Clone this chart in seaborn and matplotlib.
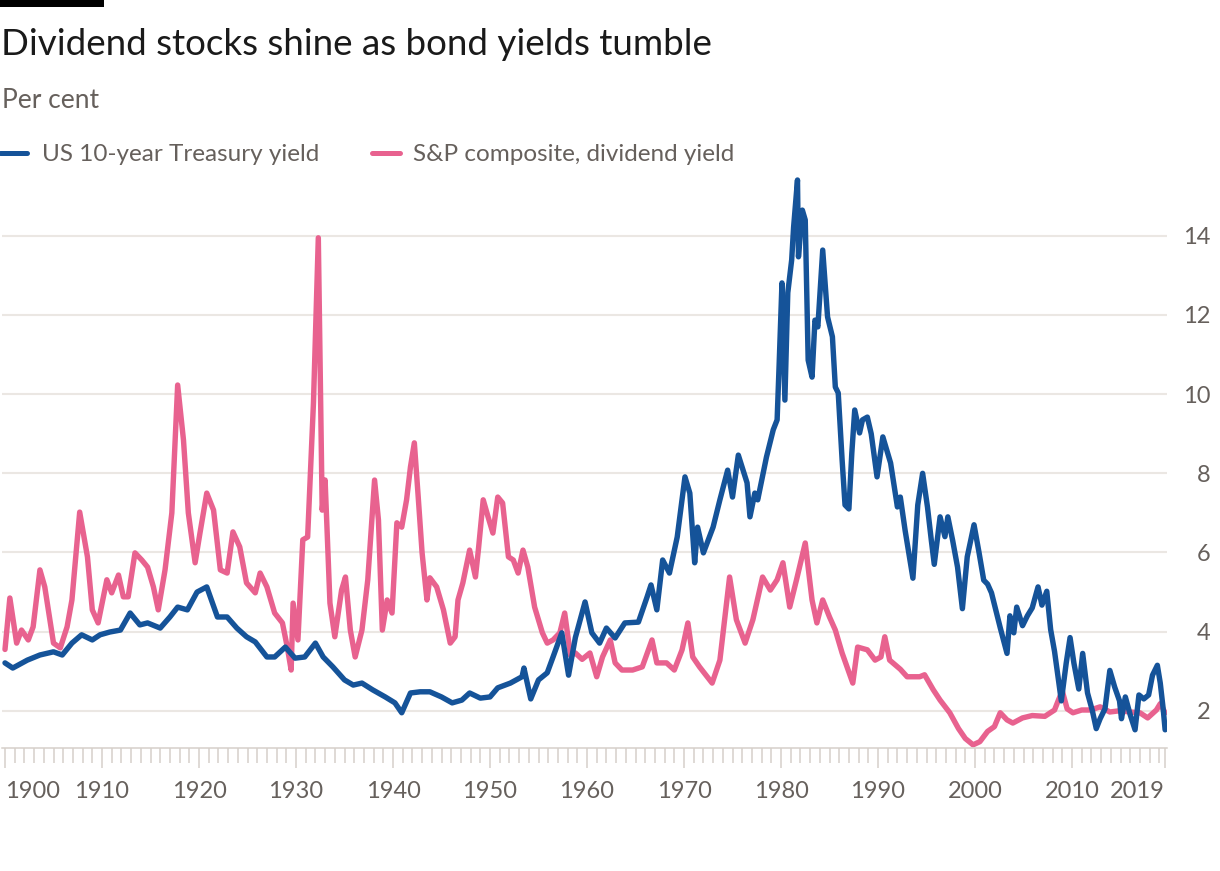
import matplotlib
matplotlib.use("Agg")
import matplotlib.pyplot as plt
from matplotlib.lines import Line2D
from matplotlib.patches import Rectangle
from matplotlib.ticker import FixedLocator, NullFormatter
import seaborn as sns
import pandas as pd

# ---------------- data ----------------
treasury_years = [
    1900.0, 1900.8, 1902.3, 1903.6, 1905.0, 1905.9, 1906.9, 1907.9, 1909.0, 1909.8,
    1910.8, 1911.9, 1912.9, 1913.9, 1914.7, 1916.0, 1917.0, 1917.8, 1918.8, 1919.8,
    1920.8, 1921.9, 1922.9, 1923.9, 1924.9, 1925.8, 1927.0, 1927.8, 1928.9, 1929.9,
    1930.9, 1932.0, 1932.8, 1933.8, 1935.0, 1935.9, 1936.8, 1937.9, 1939.2, 1940.2,
    1940.9, 1941.8, 1942.8, 1943.8, 1945.0, 1946.1, 1947.1, 1947.9, 1949.0, 1950.0,
    1950.8, 1952.1, 1953.3, 1953.5, 1954.2, 1955.0, 1955.9, 1956.5, 1957.4, 1958.1,
    1958.8, 1959.8, 1960.5, 1961.3, 1962.0, 1962.9, 1963.9, 1965.3, 1966.2, 1966.6,
    1967.2, 1967.8, 1968.5, 1969.3, 1970.1, 1970.6, 1971.1, 1971.4, 1972.0, 1973.0,
    1973.7, 1974.5, 1975.0, 1975.6, 1976.5, 1976.8, 1977.3, 1977.6, 1978.5, 1979.2,
    1979.6, 1979.8, 1980.1, 1980.4, 1980.7, 1981.1, 1981.3, 1981.7, 1981.8, 1982.2,
    1982.5, 1982.8, 1983.2, 1983.5, 1983.8, 1984.3, 1984.8, 1985.3, 1985.6, 1985.9,
    1986.3, 1986.6, 1987.0, 1987.3, 1987.6, 1988.1, 1988.4, 1988.9, 1989.3, 1989.9,
    1990.5, 1990.9, 1991.3, 1992.0, 1992.3, 1992.8, 1993.6, 1994.1, 1994.6, 1995.1,
    1995.5, 1995.8, 1996.4, 1996.9, 1997.2, 1997.7, 1998.2, 1998.7, 1999.2, 1999.9,
    2000.4, 2000.9, 2001.3, 2001.7, 2002.6, 2003.3, 2003.6, 2004.0, 2004.3, 2004.9,
    2005.4, 2005.9, 2006.5, 2006.9, 2007.4, 2007.8, 2008.2, 2008.9, 2009.4, 2009.8,
    2010.2, 2010.7, 2011.1, 2011.6, 2012.1, 2012.5, 2012.9, 2013.4, 2013.9, 2014.4,
    2014.9, 2015.1, 2015.5, 2016.0, 2016.5, 2016.9, 2017.4, 2017.9, 2018.3, 2018.8,
    2019.1, 2019.4, 2019.6,
]
treasury_values = [
    3.21, 3.08, 3.28, 3.41, 3.49, 3.41, 3.71, 3.92, 3.79, 3.92,
    3.99, 4.04, 4.47, 4.17, 4.22, 4.09, 4.37, 4.62, 4.55, 5.00,
    5.13, 4.37, 4.37, 4.09, 3.87, 3.74, 3.36, 3.36, 3.61, 3.33,
    3.36, 3.71, 3.36, 3.11, 2.78, 2.65, 2.70, 2.53, 2.35, 2.20,
    1.95, 2.45, 2.48, 2.48, 2.35, 2.20, 2.27, 2.45, 2.32, 2.35,
    2.58, 2.70, 2.86, 3.08, 2.30, 2.78, 2.96, 3.36, 3.97, 2.90,
    3.85, 4.75, 3.97, 3.71, 4.09, 3.84, 4.22, 4.24, 4.88, 5.18,
    4.55, 5.81, 5.48, 6.39, 7.91, 7.50, 5.74, 6.64, 5.99, 6.64,
    7.33, 8.08, 7.40, 8.46, 7.76, 6.90, 7.50, 7.33, 8.41, 9.10,
    9.35, 10.69, 12.81, 9.85, 12.56, 13.39, 14.22, 15.41, 13.47, 14.65,
    14.40, 10.86, 10.43, 11.87, 11.70, 13.64, 11.95, 11.45, 10.18, 10.03,
    8.34, 7.20, 7.10, 8.51, 9.60, 9.02, 9.35, 9.42, 9.00, 7.91,
    8.92, 8.59, 8.26, 7.15, 7.40, 6.55, 5.35, 7.20, 8.00, 7.15,
    6.30, 5.70, 6.90, 6.40, 6.90, 6.30, 5.63, 4.58, 5.89, 6.70,
    6.02, 5.30, 5.20, 4.98, 4.10, 3.45, 4.40, 3.97, 4.62, 4.15,
    4.40, 4.60, 5.13, 4.67, 5.02, 4.05, 3.50, 2.25, 3.20, 3.85,
    3.20, 2.55, 3.45, 2.45, 2.00, 1.55, 1.80, 2.05, 3.02, 2.60,
    2.25, 1.80, 2.35, 1.90, 1.52, 2.40, 2.30, 2.40, 2.90, 3.15,
    2.70, 2.05, 1.52,
]

dividend_years = [
    1900.0, 1900.5, 1901.2, 1901.7, 1902.4, 1902.9, 1903.6, 1904.1, 1905.0, 1905.7,
    1906.4, 1906.9, 1907.7, 1908.5, 1909.0, 1909.6, 1910.5, 1911.0, 1911.7, 1912.2,
    1912.7, 1913.4, 1914.1, 1914.7, 1915.3, 1915.8, 1916.5, 1917.2, 1917.8, 1918.4,
    1918.9, 1919.6, 1920.1, 1920.8, 1921.5, 1922.2, 1922.9, 1923.5, 1924.2, 1924.9,
    1925.8, 1926.3, 1927.0, 1927.8, 1928.6, 1929.1, 1929.5, 1929.7, 1930.2, 1930.7,
    1931.2, 1931.8, 1932.3, 1932.7, 1933.0, 1933.5, 1934.0, 1934.7, 1935.1, 1935.6,
    1936.1, 1936.8, 1937.4, 1938.1, 1938.5, 1938.9, 1939.4, 1939.9, 1940.4, 1940.9,
    1941.4, 1941.8, 1942.2, 1942.6, 1943.0, 1943.5, 1943.8, 1944.5, 1945.2, 1945.9,
    1946.4, 1946.7, 1947.2, 1947.9, 1948.5, 1948.8, 1949.3, 1949.8, 1950.3, 1950.8,
    1951.3, 1951.9, 1952.4, 1952.9, 1953.4, 1953.9, 1954.6, 1955.4, 1955.9, 1956.5,
    1957.2, 1957.7, 1958.3, 1958.8, 1959.5, 1960.3, 1961.0, 1961.6, 1962.4, 1962.9,
    1963.6, 1964.7, 1965.7, 1966.7, 1967.2, 1968.2, 1969.0, 1969.8, 1970.4, 1970.9,
    1971.6, 1972.9, 1973.7, 1974.7, 1975.4, 1976.3, 1977.1, 1978.1, 1978.9, 1979.6,
    1980.2, 1980.9, 1981.6, 1982.5, 1983.2, 1983.7, 1984.3, 1985.0, 1985.6, 1986.3,
    1987.4, 1987.9, 1988.9, 1989.7, 1990.3, 1990.7, 1991.2, 1992.3, 1993.0, 1994.3,
    1994.8, 1995.7, 1996.4, 1997.4, 1998.3, 1999.0, 1999.8, 2000.5, 2001.3, 2002.0,
    2002.6, 2003.3, 2003.9, 2004.9, 2005.9, 2007.2, 2008.2, 2008.6, 2009.0, 2009.5,
    2010.1, 2011.0, 2011.9, 2012.9, 2013.9, 2014.9, 2016.0, 2017.0, 2017.8, 2018.7,
    2019.1, 2019.6,
]
dividend_values = [
    3.55, 4.85, 3.71, 4.04, 3.79, 4.12, 5.56, 5.13, 3.71, 3.59,
    4.12, 4.80, 7.02, 5.89, 4.55, 4.22, 5.31, 4.98, 5.43, 4.88,
    4.88, 5.99, 5.81, 5.63, 5.13, 4.55, 5.56, 7.00, 10.23, 8.84,
    7.00, 5.74, 6.49, 7.50, 7.07, 5.56, 5.48, 6.52, 6.14, 5.23,
    4.98, 5.48, 5.13, 4.47, 4.22, 3.61, 3.03, 4.72, 3.79, 6.32,
    6.39, 9.78, 13.95, 7.07, 7.83, 4.72, 3.87, 5.05, 5.38, 4.04,
    3.36, 4.04, 5.31, 7.83, 6.82, 4.04, 4.80, 4.47, 6.75, 6.64,
    7.33, 8.16, 8.77, 7.40, 5.99, 4.80, 5.36, 5.13, 4.55, 3.71,
    3.87, 4.80, 5.23, 6.06, 5.38, 6.06, 7.33, 6.90, 6.49, 7.40,
    7.25, 5.89, 5.81, 5.48, 6.06, 5.63, 4.62, 3.97, 3.71, 3.79,
    3.97, 4.47, 3.40, 3.46, 3.30, 3.46, 2.86, 3.36, 3.79, 3.21,
    3.03, 3.03, 3.11, 3.79, 3.21, 3.21, 3.03, 3.54, 4.22, 3.36,
    3.11, 2.70, 3.28, 5.38, 4.30, 3.71, 4.30, 5.38, 5.05, 5.31,
    5.74, 4.62, 5.31, 6.24, 4.80, 4.22, 4.80, 4.37, 4.04, 3.46,
    2.70, 3.61, 3.54, 3.28, 3.36, 3.87, 3.28, 3.05, 2.86, 2.86,
    2.91, 2.53, 2.27, 1.95, 1.55, 1.30, 1.14, 1.22, 1.48, 1.60,
    1.95, 1.77, 1.69, 1.82, 1.88, 1.86, 2.02, 2.27, 2.50, 2.05,
    1.95, 2.02, 2.02, 2.10, 1.97, 2.00, 1.97, 1.95, 1.82, 2.02,
    2.18, 1.95,
]

series_names = ["US 10-year Treasury yield", "S&P composite, dividend yield"]
y_ticks = [2, 4, 6, 8, 10, 12, 14]
x_tick_labels = ["1900", "1910", "1920", "1930", "1940", "1950", "1960",
                 "1970", "1980", "1990", "2000", "2010", "2019"]
title_text = "Dividend stocks shine as bond yields tumble"
subtitle_text = "Per cent"

# ---------------- styling ----------------
BLUE = "#155399"
PINK = "#e8628f"
GREY_TEXT = "#66605c"
GRID = "#ebe7e3"
TICK = "#d6d0ca"
LW = 3.9

sns.set_theme(style="white")
plt.rcParams["font.family"] = ["Lato", "DejaVu Sans"]

W, H = 1220, 871
fig = plt.figure(figsize=(W / 100, H / 100), dpi=100)
fig.patch.set_facecolor("white")

xmin, xmax = 1899.7, 2019.75
ymin, ymax = 1.06, 15.6
px_per_year = 9.7
left_px = 5 + (xmin - 1900) * px_per_year
right_px = 5 + (xmax - 1900) * px_per_year
bottom_px, top_px = 748, 172.5
ax = fig.add_axes([left_px / W, 1 - bottom_px / H,
                   (right_px - left_px) / W, (bottom_px - top_px) / H])
ax.set_facecolor("white")

df_t = pd.DataFrame({"year": treasury_years, "value": treasury_values,
                     "series": series_names[0]})
df_d = pd.DataFrame({"year": dividend_years, "value": dividend_values,
                     "series": series_names[1]})

sns.lineplot(data=df_d, x="year", y="value", color=PINK, linewidth=LW,
             estimator=None, ax=ax, legend=False, solid_joinstyle="round")
sns.lineplot(data=df_t, x="year", y="value", color=BLUE, linewidth=LW,
             estimator=None, ax=ax, legend=False, solid_joinstyle="round")

ax.set_xlim(xmin, xmax)
ax.set_ylim(ymin, ymax)
ax.set_xlabel("")
ax.set_ylabel("")

# grid lines
for v in y_ticks:
    ax.axhline(v, color=GRID, lw=1.5, zorder=0)

# y axis on the right
ax.yaxis.tick_right()
ax.set_yticks(y_ticks)
ax.set_yticklabels([str(v) for v in y_ticks])
ax.tick_params(axis="y", length=0, pad=31.5, labelsize=17, labelcolor=GREY_TEXT)
for lab in ax.get_yticklabels():
    lab.set_horizontalalignment("right")

# x axis
major_pos = [1900, 1910, 1920, 1930, 1940, 1950, 1960, 1970, 1980, 1990, 2000, 2010, 2019.6]
ax.xaxis.set_major_locator(FixedLocator(major_pos))
ax.set_xticklabels(x_tick_labels)
ax.xaxis.set_minor_locator(FixedLocator(list(range(1900, 2020))))
ax.xaxis.set_minor_formatter(NullFormatter())
ax.tick_params(axis="x", which="major", length=14.4, width=1.1, color=TICK,
               direction="out", pad=9, labelsize=17, labelcolor=GREY_TEXT, bottom=True)
ax.tick_params(axis="x", which="minor", length=10.8, width=1.1, color=TICK,
               direction="out", bottom=True)
xl = ax.get_xticklabels()
xl[0].set_horizontalalignment("left")
xl[-1].set_horizontalalignment("right")

for s in ["top", "right", "left"]:
    ax.spines[s].set_visible(False)
ax.spines["bottom"].set_color(TICK)
ax.spines["bottom"].set_linewidth(1.1)

# ---------------- header ----------------
fig.patches.append(Rectangle((0, 1 - 7 / H), 104 / W, 7 / H, transform=fig.transFigure,
                             facecolor="black", edgecolor="none"))
fig.text(1 / W, 1 - 55 / H, title_text, fontsize=26.5, color="#1a1a1a",
         ha="left", va="baseline")
fig.text(2 / W, 1 - 108 / H, subtitle_text, fontsize=19, color=GREY_TEXT,
         ha="left", va="baseline")

# legend
leg_y = 1 - 153 / H
fig.lines.append(Line2D([0, 27 / W], [leg_y, leg_y], transform=fig.transFigure,
                        color=BLUE, lw=3.6))
fig.text(42 / W, 1 - 161 / H, series_names[0], fontsize=17.5, color=GREY_TEXT,
         ha="left", va="baseline")
fig.lines.append(Line2D([372 / W, 400 / W], [leg_y, leg_y], transform=fig.transFigure,
                        color=PINK, lw=3.6))
fig.text(413 / W, 1 - 161 / H, series_names[1], fontsize=17.5, color=GREY_TEXT,
         ha="left", va="baseline")

fig.savefig("out.png", dpi=100, facecolor="white")
